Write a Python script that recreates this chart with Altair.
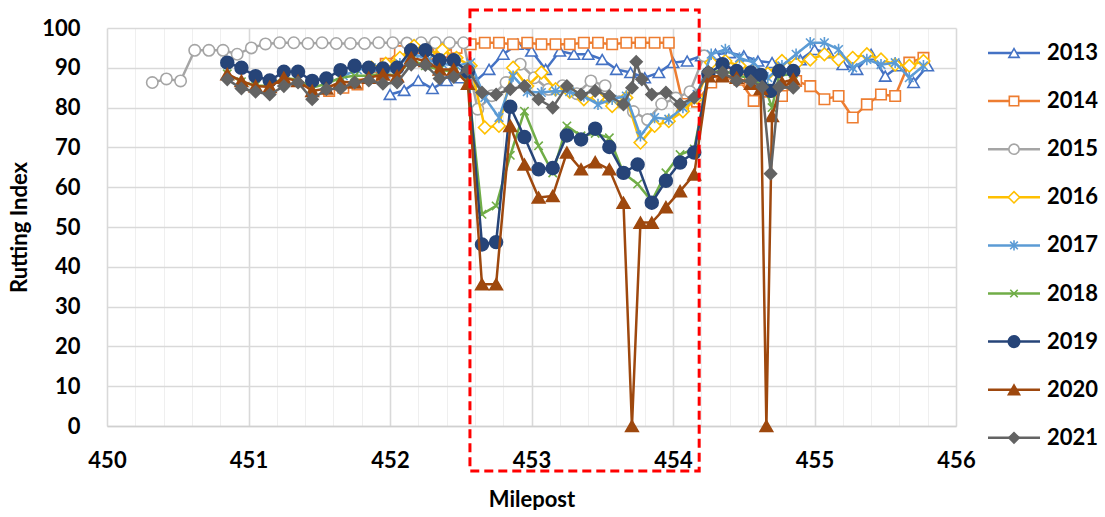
import altair as alt
import pandas as pd

FONT = "Lato"

years = ["2013", "2014", "2015", "2016", "2017", "2018", "2019", "2020", "2021"]
line_colors = ["#4472C4", "#ED7D31", "#A5A5A5", "#FFC000", "#5B9BD5",
               "#70AD47", "#264478", "#9E480E", "#636363"]

# marker glyphs: built-in symbols plus two stroked paths (star and x)
STAR = "M-0.75,-0.75L0.75,0.75M-0.75,0.75L0.75,-0.75M0,-1L0,1"
XMARK = "M-0.8,-0.8L0.8,0.8M-0.8,0.8L0.8,-0.8"
marker_shapes = ["triangle-up", "square", "circle", "diamond", STAR, XMARK,
                 "circle", "triangle-up", "diamond"]
marker_fills = ["white", "white", "white", "white", "transparent", "transparent",
                "#264478", "#9E480E", "#636363"]
marker_sizes = [130, 110, 130, 160, 130, 110, 165, 160, 140]

# ---- milepost / rutting index readings per survey year ----
mp_2013 = [452.0, 452.1, 452.2, 452.3, 452.4, 452.5, 452.6, 452.7, 452.8, 452.9,
           453.0, 453.1, 453.2, 453.3, 453.4, 453.5, 453.6, 453.7, 453.8, 453.9,
           454.0, 454.1, 454.2, 454.3, 454.4, 454.5, 454.6, 454.7, 454.8, 454.9,
           455.0, 455.1, 455.2, 455.3, 455.4, 455.5, 455.6, 455.7, 455.8]
ri_2013 = [83.3, 84.3, 86.8, 84.8, 86.8, 87.5, 86.5, 89.6, 93.4, 95.9,
           94.2, 89.6, 94.2, 93.4, 93.4, 92.1, 89.6, 88.8, 87.5, 88.8,
           91.3, 91.7, 93.0, 93.4, 93.8, 93.0, 91.7, 91.3, 91.0, 92.0,
           94.6, 93.8, 90.8, 89.6, 93.4, 87.9, 90.5, 86.3, 90.5]

mp_2014 = [451.57, 451.67, 451.77, 451.87, 451.97, 452.07, 452.17, 452.27, 452.37, 452.47,
           452.57, 452.67, 452.77, 452.87, 452.97, 453.07, 453.17, 453.27, 453.37, 453.47,
           453.57, 453.67, 453.77, 453.87, 453.97, 454.07, 454.17, 454.27, 454.37, 454.47,
           454.57, 454.67, 454.77, 454.87, 454.97, 455.07, 455.17, 455.27, 455.37, 455.47,
           455.57, 455.67, 455.77]
ri_2014 = [84.2, 85.0, 85.8, 87.5, 91.0, 94.2, 95.0, 93.5, 94.0, 95.0,
           95.9, 96.3, 96.3, 95.9, 96.3, 95.9, 95.9, 95.9, 96.3, 96.3,
           95.9, 96.3, 96.3, 96.3, 96.3, 80.9, 81.5, 86.3, 88.5, 87.0,
           81.7, 84.0, 82.9, 86.7, 85.4, 82.1, 82.9, 77.5, 80.8, 83.3,
           82.9, 91.3, 92.5]

mp_2015 = [450.32, 450.42, 450.52, 450.62, 450.72, 450.82, 450.92, 451.02, 451.12, 451.22,
           451.32, 451.42, 451.52, 451.62, 451.72, 451.82, 451.92, 452.02, 452.12, 452.22,
           452.32, 452.42, 452.52, 452.62, 452.72, 452.82, 452.92, 453.02, 453.12, 453.22,
           453.32, 453.42, 453.52, 453.62, 453.72, 453.82, 453.92, 454.02, 454.12, 454.22]
ri_2015 = [86.3, 87.2, 86.7, 94.4, 94.4, 94.4, 93.4, 95.0, 96.0, 96.3,
           96.3, 96.1, 96.3, 96.1, 96.1, 96.1, 96.3, 96.3, 96.2, 96.3,
           96.3, 96.3, 96.3, 79.6, 83.0, 86.3, 90.9, 87.5, 84.6, 85.5,
           83.5, 86.7, 85.5, 81.5, 79.0, 77.0, 80.9, 82.4, 84.0, 93.0]

mp_2016 = [451.87, 451.97, 452.07, 452.17, 452.27, 452.37, 452.47, 452.57, 452.67, 452.77,
           452.87, 452.97, 453.07, 453.17, 453.27, 453.37, 453.47, 453.57, 453.67, 453.77,
           453.87, 453.97, 454.07, 454.17, 454.27, 454.37, 454.47, 454.57, 454.67, 454.77,
           454.87, 454.97, 455.07, 455.17, 455.27, 455.37, 455.47, 455.57, 455.67, 455.77]
ri_2016 = [90.0, 91.0, 92.5, 95.5, 93.5, 94.5, 92.5, 90.5, 75.0, 75.4,
           90.0, 85.4, 88.8, 84.6, 84.0, 82.1, 82.5, 80.4, 82.5, 71.2,
           75.4, 76.6, 79.1, 82.5, 91.3, 91.7, 90.5, 89.5, 88.5, 91.7,
           91.0, 92.1, 93.4, 92.1, 92.5, 93.4, 92.1, 90.8, 90.5, 91.7]

mp_2017 = [451.67, 451.77, 451.87, 451.97, 452.07, 452.17, 452.27, 452.37, 452.47, 452.57,
           452.67, 452.77, 452.87, 452.97, 453.07, 453.17, 453.27, 453.37, 453.47, 453.57,
           453.67, 453.77, 453.87, 453.97, 454.07, 454.17, 454.27, 454.37, 454.47, 454.57,
           454.67, 454.77, 454.87, 454.97, 455.07, 455.17, 455.27, 455.37, 455.47, 455.57,
           455.67, 455.77]
ri_2017 = [88.0, 89.5, 90.0, 88.5, 91.0, 93.5, 92.0, 91.0, 90.5, 91.3,
           82.5, 77.5, 87.9, 84.0, 83.8, 84.2, 84.0, 82.9, 80.8, 82.1,
           82.9, 72.9, 77.5, 77.1, 80.0, 83.3, 93.4, 94.6, 92.5, 91.3,
           87.5, 90.5, 93.4, 96.3, 96.3, 94.6, 90.0, 92.1, 90.8, 91.3,
           87.5, 90.5]

mp_2018 = [450.85, 450.95, 451.05, 451.15, 451.25, 451.35, 451.45, 451.55, 451.65, 451.75,
           451.85, 451.95, 452.05, 452.15, 452.25, 452.35, 452.45, 452.55, 452.65, 452.75,
           452.85, 452.95, 453.05, 453.15, 453.25, 453.35, 453.45, 453.55, 453.65, 453.75,
           453.85, 453.95, 454.05, 454.15, 454.25, 454.35, 454.45, 454.55, 454.65, 454.70,
           454.75, 454.85]
ri_2018 = [88.5, 86.5, 85.5, 85.5, 87.5, 87.0, 85.0, 86.0, 87.5, 88.0,
           88.0, 88.5, 88.0, 92.0, 90.5, 89.5, 89.0, 87.0, 53.2, 55.3,
           68.0, 79.1, 70.4, 63.6, 75.4, 72.9, 73.5, 72.4, 63.6, 60.8,
           56.5, 63.6, 68.2, 69.6, 88.5, 89.5, 88.0, 87.5, 85.0, 80.0,
           88.0, 88.5]

mp_2019 = [450.85, 450.95, 451.05, 451.15, 451.25, 451.35, 451.45, 451.55, 451.65, 451.75,
           451.85, 451.95, 452.05, 452.15, 452.25, 452.35, 452.45, 452.55, 452.65, 452.75,
           452.85, 452.95, 453.05, 453.15, 453.25, 453.35, 453.45, 453.55, 453.65, 453.75,
           453.85, 453.95, 454.05, 454.15, 454.25, 454.35, 454.45, 454.55, 454.62, 454.69,
           454.75, 454.85]
ri_2019 = [91.3, 90.0, 87.9, 86.8, 89.0, 89.0, 86.7, 87.3, 89.4, 90.5,
           90.0, 89.8, 90.0, 94.4, 94.4, 91.9, 91.9, 89.0, 45.6, 46.2,
           80.2, 72.6, 64.5, 64.8, 73.0, 72.0, 74.7, 70.1, 63.6, 65.7,
           56.1, 61.6, 66.2, 68.7, 88.5, 90.9, 89.2, 88.8, 88.2, 84.2,
           89.2, 89.2]

mp_2020 = [450.85, 450.95, 451.05, 451.15, 451.25, 451.35, 451.45, 451.55, 451.65, 451.75,
           451.85, 451.95, 452.05, 452.15, 452.25, 452.35, 452.45, 452.55, 452.65, 452.75,
           452.85, 452.95, 453.05, 453.15, 453.25, 453.35, 453.45, 453.55, 453.65, 453.71,
           453.77, 453.85, 453.95, 454.05, 454.15, 454.25, 454.35, 454.45, 454.55, 454.62,
           454.66, 454.70, 454.77, 454.85]
ri_2020 = [88.4, 86.7, 85.4, 85.2, 87.5, 86.7, 84.2, 84.8, 86.5, 86.3,
           87.5, 88.3, 87.9, 92.5, 91.7, 89.6, 89.6, 86.0, 35.6, 35.6,
           75.4, 65.7, 57.4, 57.8, 68.7, 64.5, 66.3, 64.5, 56.1, 0.0,
           51.1, 51.1, 55.0, 59.0, 63.2, 87.9, 87.9, 87.5, 86.0, 84.7,
           0.0, 77.9, 86.3, 87.1]

mp_2021 = [450.85, 450.95, 451.05, 451.15, 451.25, 451.35, 451.45, 451.55, 451.65, 451.75,
           451.85, 451.95, 452.05, 452.15, 452.25, 452.35, 452.45, 452.55, 452.65, 452.75,
           452.85, 452.95, 453.05, 453.15, 453.25, 453.35, 453.45, 453.55, 453.65, 453.71,
           453.74, 453.78, 453.85, 453.95, 454.05, 454.15, 454.25, 454.35, 454.45, 454.55,
           454.63, 454.69, 454.75, 454.85]
ri_2021 = [87.1, 84.8, 84.0, 83.3, 85.4, 86.3, 82.1, 84.6, 84.8, 86.3,
           86.8, 86.0, 86.3, 90.8, 90.7, 87.3, 87.7, 89.6, 83.8, 83.3,
           84.6, 85.4, 82.1, 80.0, 85.4, 83.3, 84.2, 82.9, 80.8, 85.0,
           91.5, 87.1, 83.3, 83.8, 80.8, 82.5, 89.0, 88.8, 86.7, 86.7,
           85.2, 63.4, 85.2, 85.0]

series = {
    "2013": (mp_2013, ri_2013), "2014": (mp_2014, ri_2014), "2015": (mp_2015, ri_2015),
    "2016": (mp_2016, ri_2016), "2017": (mp_2017, ri_2017), "2018": (mp_2018, ri_2018),
    "2019": (mp_2019, ri_2019), "2020": (mp_2020, ri_2020), "2021": (mp_2021, ri_2021),
}

# section of interest outlined with a dashed frame (milepost range, index range)
highlight_mp = [452.565, 454.185]
highlight_ri = [-11.3, 104.5]

x_grid = [round(450 + 0.2 * i, 1) for i in range(31)]
y_ticks = list(range(0, 101, 10))

PLOT_W, PLOT_H = 849, 398

rows = []
for yr, (mp, ri) in series.items():
    rows += [{"year": yr, "milepost": m, "ri": r} for m, r in zip(mp, ri)]
df = pd.DataFrame(rows)

is_whole = "abs(datum.value - round(datum.value)) < 0.01"

X = alt.X(
    "milepost:Q",
    scale=alt.Scale(domain=[450, 456], nice=False, zero=False),
    axis=alt.Axis(
        values=x_grid, title="Milepost", grid=True,
        gridColor={"condition": {"test": is_whole, "value": "#D9D9D9"}, "value": "#EFEFEF"},
        gridWidth={"condition": {"test": is_whole, "value": 1.6}, "value": 1.0},
        labelExpr=f"{is_whole} ? format(datum.value, 'd') : ''",
        labelFlush=False, labelOverlap=False, ticks=False, tickSize=0,
        domainColor="#D0D0D0", domainWidth=1.6,
        labelPadding=24, titlePadding=18,
        labelFont=FONT, labelFontSize=22, labelFontWeight="bold", labelColor="black",
        titleFont=FONT, titleFontSize=22, titleFontWeight="bold", titleColor="black",
    ),
)
Y = alt.Y(
    "ri:Q",
    scale=alt.Scale(domain=[0, 100], nice=False),
    axis=alt.Axis(
        values=y_ticks, title="Rutting Index", grid=True,
        gridColor="#D9D9D9", gridWidth=1.6, domain=False, ticks=False, tickSize=0,
        labelOverlap=False, labelPadding=27, titlePadding=10,
        labelFont=FONT, labelFontSize=22, labelFontWeight="bold", labelColor="black",
        titleFont=FONT, titleFontSize=22, titleFontWeight="bold", titleColor="black",
    ),
)

layers = []
for yr, col, shp, fil, sz in zip(years, line_colors, marker_shapes, marker_fills, marker_sizes):
    sub = alt.Chart(df).transform_filter(alt.datum.year == yr)
    layers.append(sub.mark_line(color=col, strokeWidth=2.5).encode(x=X, y=Y))
    layers.append(
        sub.mark_point(shape=shp, size=sz, filled=True, fill=fil, stroke=col,
                       strokeWidth=1.6, opacity=1).encode(x=X, y=Y)
    )

# the frame uses the same fields as the series so the axes stay shared
box_df = pd.DataFrame({"milepost": [highlight_mp[0]], "milepost_end": [highlight_mp[1]],
                       "ri": [highlight_ri[0]], "ri_end": [highlight_ri[1]]})
box = alt.Chart(box_df).mark_rect(
    fill="transparent", stroke="#FF0000", strokeWidth=3, strokeDash=[9, 5]
).encode(x=X, x2="milepost_end", y=Y, y2="ri_end")

plot = alt.layer(*layers, box)

# legend to the right of the plot: one slot per year, each a short line with its marker.
# Its own scales place the key column 32 px past the plot edge, rows 48 px apart.
KEY_X0, KEY_LEN = PLOT_W + 32, 52
ROW_TOP, ROW_STEP = 25, 48.1
lx_lo = -KEY_X0 / KEY_LEN
lx_scale = alt.Scale(domain=[lx_lo, lx_lo + PLOT_W / KEY_LEN], nice=False, zero=False)
ly_lo = -ROW_TOP / ROW_STEP
ly_scale = alt.Scale(domain=[ly_lo, ly_lo + PLOT_H / ROW_STEP], nice=False, zero=False, reverse=True)

leg_df = pd.DataFrame({"year": years, "slot": list(range(9)),
                       "lo": [0.0] * 9, "mid": [0.5] * 9, "hi": [1.0] * 9})
LY = alt.Y("slot:Q", axis=None, scale=ly_scale)
leg_layers = []
for yr, col, shp, fil, sz in zip(years, line_colors, marker_shapes, marker_fills, marker_sizes):
    sub = alt.Chart(leg_df).transform_filter(alt.datum.year == yr)
    leg_layers.append(sub.mark_rule(color=col, strokeWidth=2.5).encode(
        x=alt.X("lo:Q", scale=lx_scale, axis=None), x2="hi", y=LY))
    leg_layers.append(sub.mark_point(shape=shp, size=sz * 0.8, filled=True, fill=fil, stroke=col,
                                     strokeWidth=1.6, opacity=1).encode(
        x=alt.X("mid:Q", scale=lx_scale, axis=None), y=LY))
leg_layers.append(alt.Chart(leg_df).mark_text(
    align="left", baseline="middle", dx=7, font=FONT, fontSize=22, fontWeight="bold", color="black"
).encode(x=alt.X("hi:Q", scale=lx_scale, axis=None), y=LY, text="year:N"))
key = alt.layer(*leg_layers)

chart = (
    alt.layer(plot, key)
    .resolve_scale(x="independent", y="independent")
    .properties(width=PLOT_W, height=PLOT_H,
                padding={"left": 8, "top": 8, "right": 0, "bottom": 0}, background="white")
    .configure_view(stroke=None)
)

chart.save("out.html", embed_options={"renderer": "svg", "actions": False})
